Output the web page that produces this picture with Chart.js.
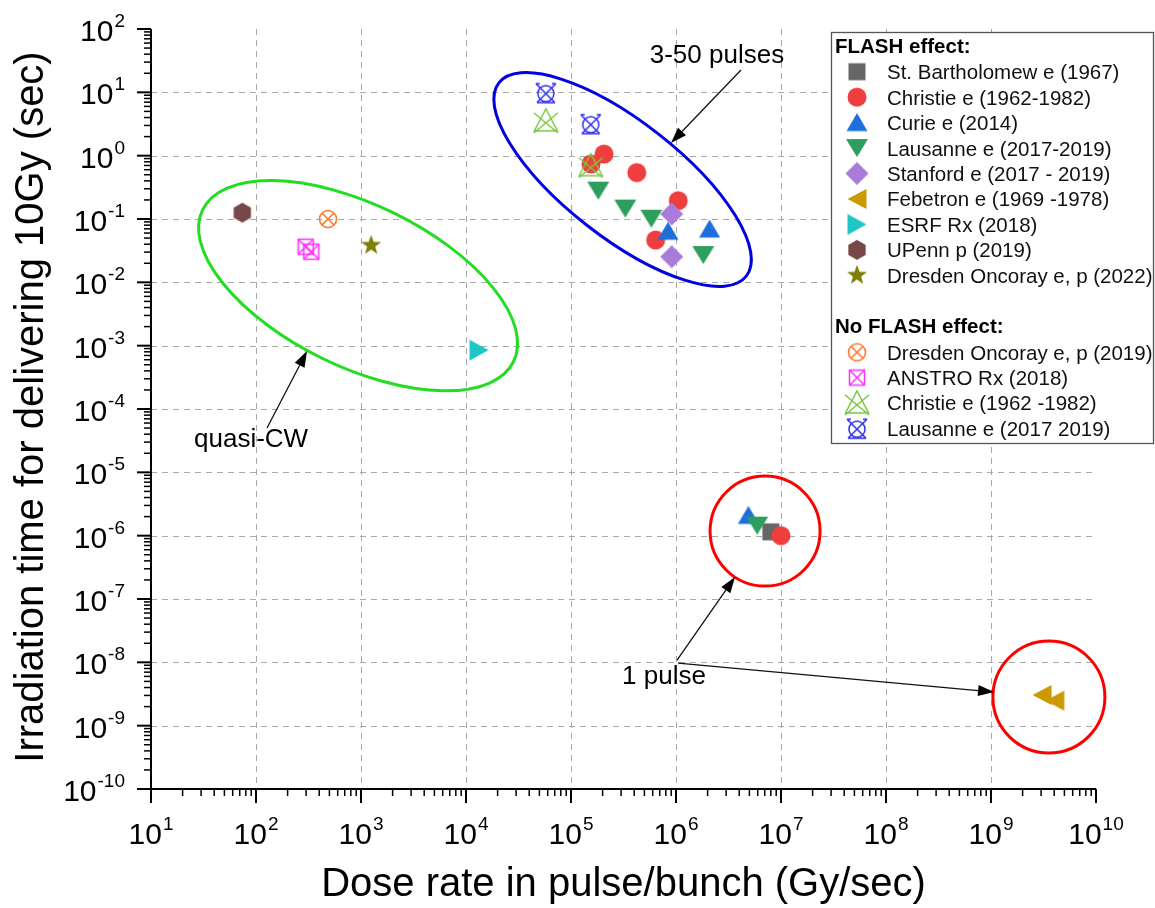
<!DOCTYPE html>
<html><head><meta charset="utf-8">
<script src="https://cdn.jsdelivr.net/npm/chart.js@4.4.1/dist/chart.umd.min.js"></script>
<style>html,body{margin:0;padding:0;background:#fff;}canvas{display:block;}</style>
</head><body>
<canvas id="c" width="1155" height="908"></canvas>
<script>
// ---------- data ----------
const xTickExponents = [1,2,3,4,5,6,7,8,9,10];
const yTickExponents = [2,1,0,-1,-2,-3,-4,-5,-6,-7,-8,-9,-10];

const seriesNames = [
  'St. Bartholomew e (1967)','Christie e (1962-1982)','Curie e (2014)','Lausanne e (2017-2019)',
  'Stanford e (2017 - 2019)','Febetron e (1969 -1978)','ESRF Rx (2018)','UPenn p (2019)',
  'Dresden Oncoray e, p (2022)',
  'Dresden Oncoray e, p (2019)','ANSTRO Rx (2018)','Christie e (1962 -1982)','Lausanne e (2017 2019)'
];

const stBartholomew = [{x:8.0e6,y:1.15e-6}];
const christie = [{x:1.55e5,y:0.74},{x:2.06e5,y:1.06},{x:4.23e5,y:0.54},{x:1.05e6,y:0.195},{x:6.4e5,y:0.0465},{x:1.0e7,y:1.0e-6}];
const curie = [{x:8.4e5,y:0.064},{x:2.09e6,y:0.0695},{x:4.89e6,y:2.09e-6}];
const lausanne = [{x:1.82e5,y:0.28},{x:3.29e5,y:0.146},{x:5.82e5,y:0.101},{x:1.82e6,y:0.027},{x:5.94e6,y:1.44e-6}];
const stanford = [{x:9.1e5,y:0.12},{x:9.1e5,y:0.0254}];
const febetron = [{x:3.06e9,y:3.05e-9},{x:4.05e9,y:2.48e-9}];
const esrf = [{x:1.33e4,y:8.5e-4}];
const upenn = [{x:74,y:0.126}];
const dresden2022 = [{x:1250,y:0.0384}];
const dresden2019 = [{x:485,y:0.1}];
const anstro = [{x:297,y:0.0365},{x:336,y:0.0305}];
const christieNoFlash = [{x:5.76e4,y:3.55},{x:1.54e5,y:0.695}];
const lausanneNoFlash = [{x:5.76e4,y:9.9},{x:1.54e5,y:3.2}];

// ---------- markers ----------
function mk(size, draw){const c=document.createElement('canvas');c.width=size;c.height=size;const g=c.getContext('2d');g.translate(size/2,size/2);draw(g);return c;}
function poly(g,pts){g.beginPath();pts.forEach((p,i)=>i?g.lineTo(p[0],p[1]):g.moveTo(p[0],p[1]));g.closePath();}
const M = {
  square: mk(20,g=>{g.fillStyle='#666666';g.fillRect(-8.5,-8.5,17,17);}),
  circle: mk(22,g=>{g.fillStyle='#EF3E3E';g.beginPath();g.arc(0,0,9.5,0,Math.PI*2);g.fill();}),
  triUp: mk(24,g=>{g.fillStyle='#1F6FDB';poly(g,[[0,-9.5],[10.5,8.5],[-10.5,8.5]]);g.fill();}),
  triDown: mk(24,g=>{g.fillStyle='#2E9E5C';poly(g,[[-11,-9],[11,-9],[0,9]]);g.fill();}),
  diamond: mk(26,g=>{g.fillStyle='#A97BDA';poly(g,[[0,-11.5],[11.5,0],[0,11.5],[-11.5,0]]);g.fill();}),
  triLeft: mk(24,g=>{g.fillStyle='#CC9900';poly(g,[[-9.5,0],[9.5,-10],[9.5,10]]);g.fill();}),
  triRight: mk(24,g=>{g.fillStyle='#1EC6C8';poly(g,[[9.5,0],[-9.5,-10.5],[-9.5,10.5]]);g.fill();}),
  hexagon: mk(24,g=>{g.fillStyle='#774848';const p=[];for(let i=0;i<6;i++){const a=-Math.PI/2+i*Math.PI/3;p.push([10*Math.cos(a),10*Math.sin(a)]);}poly(g,p);g.fill();}),
  star: mk(24,g=>{g.fillStyle='#7F7F08';const p=[];for(let i=0;i<10;i++){const r=i%2?4.3:10.5;const a=-Math.PI/2+i*Math.PI/5;p.push([r*Math.cos(a),r*Math.sin(a)]);}poly(g,p);g.fill();}),
  circX: mk(22,g=>{g.strokeStyle='#FF7A2E';g.lineWidth=1.6;g.beginPath();g.arc(0,0,8.5,0,Math.PI*2);g.stroke();g.beginPath();g.moveTo(-6,-6);g.lineTo(6,6);g.moveTo(6,-6);g.lineTo(-6,6);g.stroke();}),
  sqX: mk(20,g=>{g.strokeStyle='#FF30FF';g.lineWidth=1.5;g.strokeRect(-7.5,-7.5,15,15);g.beginPath();g.moveTo(-7.5,-7.5);g.lineTo(7.5,7.5);g.moveTo(7.5,-7.5);g.lineTo(-7.5,7.5);g.stroke();}),
  triX: mk(28,g=>{g.strokeStyle='#78C840';g.lineWidth=1.5;poly(g,[[0,-12],[11.5,10],[-11.5,10]]);g.stroke();g.beginPath();g.moveTo(-12,-8);g.lineTo(12,12);g.moveTo(12,-8);g.lineTo(-12,12);g.stroke();}),
  cupX: mk(26,g=>{g.strokeStyle='#2B2BF2';g.lineWidth=1.5;g.beginPath();g.arc(0,1,8,0,Math.PI*2);g.stroke();g.beginPath();g.moveTo(-10,-9);g.lineTo(9,10);g.moveTo(10,-9);g.lineTo(-9,10);g.moveTo(-9,10);g.lineTo(9,10);g.moveTo(-10,-9);g.lineTo(-6,-9);g.moveTo(10,-9);g.lineTo(6,-9);g.stroke();})
};

const seriesData = [stBartholomew,christie,curie,lausanne,stanford,febetron,esrf,upenn,dresden2022,dresden2019,anstro,christieNoFlash,lausanneNoFlash];
const seriesMarkers = [M.square,M.circle,M.triUp,M.triDown,M.diamond,M.triLeft,M.triRight,M.hexagon,M.star,M.circX,M.sqX,M.triX,M.cupX];

// annotation geometry (centres in data units, sizes in px)
const ellipses = [
  {cx:938, cy:0.00885, rx:173, ry:81, rot:26, color:'#22DD22'},
  {cx:3.1e5, cy:0.42, rx:157, ry:58, rot:38, color:'#0000E0'},
  {cx:7.05e6, cy:1.18e-6, rx:55, ry:55, rot:0, color:'#FF0000'},
  {cx:3.56e9, cy:2.83e-9, rx:56, ry:56, rot:0, color:'#FF0000'}
];
// positions in log10 units
const notes = [
  {text:'3-50 pulses', lx:6.390, ly:1.463, align:'center'},
  {text:'quasi-CW', lx:1.4095, ly:-4.60, align:'left'},
  {text:'1 pulse', lx:5.486, ly:-8.343, align:'left'}
];
const arrows = [
  [6.619,1.353, 5.952,0.200],
  [2.105,-4.300, 2.486,-3.084],
  [6.010,-7.964, 6.562,-6.653],
  [6.019,-8.011, 9.029,-8.469]
];

const FONT = "'Liberation Sans', Arial, Helvetica, sans-serif";

function px(chart,lx,ly){return [chart.scales.x.getPixelForValue(Math.pow(10,lx)), chart.scales.y.getPixelForValue(Math.pow(10,ly))];}

function drawPow(ctx, exp, x, baseY, align){
  const sup = String(exp);
  ctx.font = '30px '+FONT; const wb = ctx.measureText('10').width;
  ctx.font = '19px '+FONT; const ws = ctx.measureText(sup).width;
  const total = wb+1+ws;
  const x0 = align==='center' ? x-total/2 : x-total;
  ctx.textAlign='left'; ctx.textBaseline='alphabetic'; ctx.fillStyle='#000';
  ctx.font='30px '+FONT; ctx.fillText('10', x0, baseY);
  ctx.font='19px '+FONT; ctx.fillText(sup, x0+wb+1, baseY-14);
}

function arrow(ctx,x1,y1,x2,y2){
  const a=Math.atan2(y2-y1,x2-x1), L=16, W=5.5, c=Math.cos(a), s=Math.sin(a);
  ctx.beginPath();ctx.moveTo(x1,y1);ctx.lineTo(x2-L*c,y2-L*s);ctx.stroke();
  ctx.beginPath();ctx.moveTo(x2,y2);ctx.lineTo(x2-L*c+W*s,y2-L*s-W*c);ctx.lineTo(x2-L*c-W*s,y2-L*s+W*c);ctx.closePath();ctx.fill();
}

const decor = {
  id:'decor',
  beforeDatasetsDraw(chart){
    const ctx=chart.ctx, xs=chart.scales.x, ys=chart.scales.y, a=chart.chartArea;
    ctx.save(); ctx.strokeStyle='#A8A8A8'; ctx.lineWidth=1; ctx.setLineDash([6,5]);
    xTickExponents.slice(1,-1).forEach(e=>{const x=Math.round(xs.getPixelForValue(Math.pow(10,e)))+0.5;ctx.beginPath();ctx.moveTo(x,a.top);ctx.lineTo(x,a.bottom);ctx.stroke();});
    yTickExponents.slice(1,-1).forEach(e=>{const y=Math.round(ys.getPixelForValue(Math.pow(10,e)))+0.5;ctx.beginPath();ctx.moveTo(a.left,y);ctx.lineTo(a.right,y);ctx.stroke();});
    ctx.restore();
  },
  afterDatasetsDraw(chart){
    const ctx=chart.ctx, xs=chart.scales.x, ys=chart.scales.y, a=chart.chartArea;
    ctx.save();
    // ellipses
    ctx.lineWidth=3;
    ellipses.forEach(e=>{ctx.strokeStyle=e.color;ctx.beginPath();ctx.ellipse(xs.getPixelForValue(e.cx),ys.getPixelForValue(e.cy),e.rx,e.ry,e.rot*Math.PI/180,0,Math.PI*2);ctx.stroke();});
    // arrows
    ctx.strokeStyle='#111';ctx.fillStyle='#000';ctx.lineWidth=1.3;
    arrows.forEach(r=>{const p=px(chart,r[0],r[1]),q=px(chart,r[2],r[3]);arrow(ctx,p[0],p[1],q[0],q[1]);});
    ctx.font='26px '+FONT; ctx.fillStyle='#000'; ctx.textBaseline='alphabetic';
    notes.forEach(n=>{const p=px(chart,n.lx,n.ly);ctx.textAlign=n.align;ctx.fillText(n.text,p[0],p[1]);});
    // axes
    ctx.strokeStyle='#000'; ctx.lineWidth=2;
    ctx.beginPath();ctx.moveTo(a.left,a.top);ctx.lineTo(a.left,a.bottom);ctx.lineTo(a.right,a.bottom);ctx.stroke();
    const xd=xTickExponents, yd=yTickExponents;
    for(let e=xd[0]; e<=xd[xd.length-1]; e++){
      const x=xs.getPixelForValue(Math.pow(10,e));
      ctx.lineWidth=2;ctx.beginPath();ctx.moveTo(x,a.bottom);ctx.lineTo(x,a.bottom+14);ctx.stroke();
      if(e<xd[xd.length-1]) for(let k=2;k<=9;k++){const xm=xs.getPixelForValue(k*Math.pow(10,e));ctx.lineWidth=1.5;ctx.beginPath();ctx.moveTo(xm,a.bottom);ctx.lineTo(xm,a.bottom+7);ctx.stroke();}
    }
    for(let e=yd[yd.length-1]; e<=yd[0]; e++){
      const y=ys.getPixelForValue(Math.pow(10,e));
      ctx.lineWidth=2;ctx.beginPath();ctx.moveTo(a.left,y);ctx.lineTo(a.left-14,y);ctx.stroke();
      if(e<yd[0]) for(let k=2;k<=9;k++){const ym=ys.getPixelForValue(k*Math.pow(10,e));ctx.lineWidth=1.5;ctx.beginPath();ctx.moveTo(a.left,ym);ctx.lineTo(a.left-7,ym);ctx.stroke();}
    }
    xd.forEach(e=>drawPow(ctx,e,xs.getPixelForValue(Math.pow(10,e)),a.bottom+55,'center'));
    yd.forEach(e=>drawPow(ctx,e,a.left-26,ys.getPixelForValue(Math.pow(10,e))+12,'right'));
    // titles
    ctx.fillStyle='#000'; ctx.font='40px '+FONT; ctx.textAlign='center'; ctx.textBaseline='alphabetic';
    ctx.fillText('Dose rate in pulse/bunch (Gy/sec)', (a.left+a.right)/2, 896);
    ctx.save(); ctx.translate(43,(a.top+a.bottom)/2-2); ctx.rotate(-Math.PI/2);
    ctx.fillText('Irradiation time for delivering 10Gy (sec)',0,0); ctx.restore();
    ctx.restore();
  },
  afterDraw(chart){
    const ctx=chart.ctx; ctx.save();
    ctx.fillStyle='#fff'; ctx.fillRect(831,32,323,411);
    ctx.strokeStyle='#555'; ctx.lineWidth=1.3; ctx.strokeRect(831.5,32.5,322,411);
    ctx.fillStyle='#000'; ctx.textAlign='left'; ctx.textBaseline='alphabetic';
    ctx.font='bold 20.5px '+FONT;
    ctx.fillText('FLASH effect:',835,53);
    ctx.fillText('No FLASH effect:',835,333);
    ctx.font='20.5px '+FONT; ctx.fillStyle='#111';
    seriesNames.forEach((name,i)=>{
      const y = i<9 ? 71.7+i*25.45 : 352.3+(i-9)*25.3;
      const m=seriesMarkers[i];
      ctx.drawImage(m,857-m.width/2,y-m.height/2);
      ctx.fillText(name,887,y+7.5);
    });
    ctx.restore();
  }
};

new Chart(document.getElementById('c'),{
  type:'scatter',
  data:{datasets: seriesData.map((d,i)=>({label:seriesNames[i],data:d,pointStyle:seriesMarkers[i],pointRadius:9,pointHoverRadius:9,order:-i}))},
  options:{
    responsive:false, maintainAspectRatio:false, animation:false,
    layout:{padding:{left:151,right:59,top:29,bottom:119}},
    plugins:{legend:{display:false},tooltip:{enabled:false}},
    events:[],
    scales:{
      x:{type:'logarithmic',min:10,max:1e10,display:false},
      y:{type:'logarithmic',min:1e-10,max:100,display:false}
    }
  },
  plugins:[decor]
});
</script>
</body></html>
